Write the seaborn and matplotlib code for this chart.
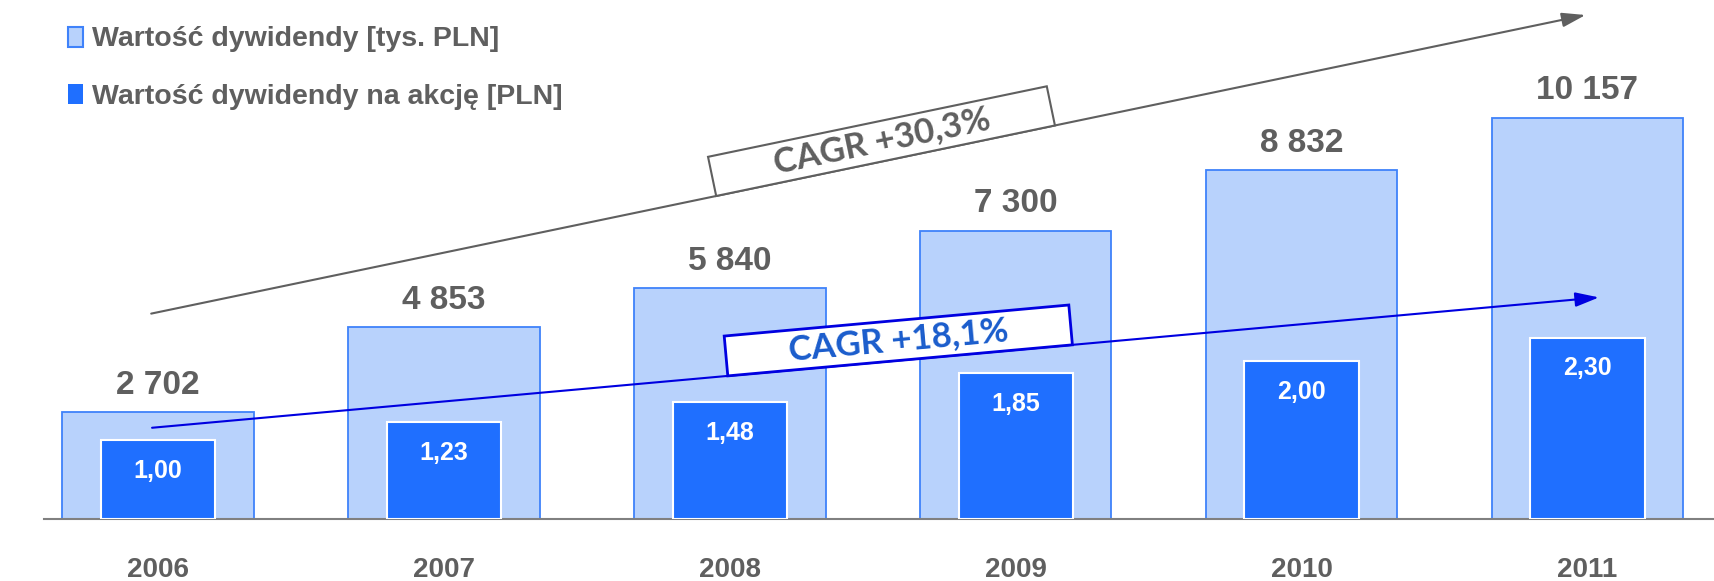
import numpy as np
import pandas as pd
import seaborn as sns
import matplotlib.pyplot as plt
import matplotlib.transforms as mtransforms
from matplotlib.patches import Patch, Rectangle

# --- data -------------------------------------------------------------
years = ["2006", "2007", "2008", "2009", "2010", "2011"]
total_dividend = [2702, 4853, 5840, 7300, 8832, 10157]      # tys. PLN
dividend_per_share = [1.00, 1.23, 1.48, 1.85, 2.00, 2.30]   # PLN

legend_labels = ["Wartość dywidendy [tys. PLN]", "Wartość dywidendy na akcję [PLN]"]
cagr_labels = ["CAGR +30,3%", "CAGR +18,1%"]

# trend arrows (x in category units, y in tys. PLN scale)
trend_total_x = [-0.024, 4.993]
trend_total_y = [5200, 12760]
trend_share_x = [-0.021, 5.04]
trend_share_y = [2310, 5610]

# --- style ------------------------------------------------------------
sns.set_theme(style="white")
plt.rcParams["font.family"] = ["Liberation Sans", "DejaVu Sans"]

GRAY = "#5f5f5f"
LIGHT = "#b8d2fc"
LIGHT_EDGE = "#3f82fa"
DARK = "#1f6fff"
ARROW_BLUE = "#0000e0"
TEXT_BLUE = "#1a5ccc"

W, H, DPI = 1715, 581, 100
fig = plt.figure(figsize=(W / DPI, H / DPI), dpi=DPI)
ax = fig.add_axes([44 / W, 62 / H, 1 - 44 / W, 519 / H])

df = pd.DataFrame({"year": years, "total": total_dividend, "per_share": dividend_per_share})

sns.barplot(data=df, x="year", y="total", ax=ax, width=0.67, color=LIGHT,
            edgecolor=LIGHT_EDGE, linewidth=1.3, saturation=1, zorder=1)
ax2 = ax.twinx()
sns.barplot(data=df, x="year", y="per_share", ax=ax2, width=0.40, color=DARK,
            edgecolor="white", linewidth=1.5, saturation=1, zorder=2)

ax.set_xlim(-0.399, 5.446)
ax.set_ylim(0, 13140)
ax2.set_ylim(0, 6.586)

for a in (ax, ax2):
    a.set_xlabel("")
    a.set_ylabel("")
    a.set_yticks([])
    for s in a.spines.values():
        s.set_visible(False)
ax.spines["bottom"].set_visible(True)
ax.spines["bottom"].set_color("#808080")
ax.spines["bottom"].set_linewidth(1.5)

ax.tick_params(axis="x", length=0, pad=27.5, labelsize=20, labelcolor=GRAY)
for lbl in ax.get_xticklabels():
    lbl.set_fontweight("bold")

# value labels
for i, v in enumerate(total_dividend):
    ax2.annotate(f"{v:,}".replace(",", " "), xy=(i, v), xycoords=ax.transData,
                 xytext=(0, 19.5), textcoords="offset points", ha="center", va="center",
                 fontsize=24, fontweight="bold", color=GRAY, zorder=6)
for i, v in enumerate(dividend_per_share):
    ax2.annotate(f"{v:.2f}".replace(".", ","), xy=(i, v), xycoords=ax2.transData,
                 xytext=(0, -22), textcoords="offset points", ha="center", va="center",
                 fontsize=18, fontweight="bold", color="white", zorder=6)

# legend
handles = [Patch(facecolor=LIGHT, edgecolor=LIGHT_EDGE, linewidth=1.5),
           Patch(facecolor=DARK, edgecolor=DARK, linewidth=0)]
leg = ax2.legend(handles, legend_labels, loc="upper left",
                 bbox_to_anchor=(68 / W, 1 - 26.5 / H), bbox_transform=fig.transFigure,
                 frameon=False, prop={"size": 20.5, "weight": "bold"}, labelcolor=GRAY,
                 handlelength=0.53, handleheight=0.7, handletextpad=0.32,
                 labelspacing=1.12, borderpad=0, borderaxespad=0)


def trend(xs, ys, color, lw, label, text_color, box_lw, frac):
    ax2.annotate("", xy=(xs[1], ys[1]), xycoords=ax.transData,
                 xytext=(xs[0], ys[0]), textcoords=ax.transData,
                 arrowprops=dict(arrowstyle="-|>,head_length=0.72,head_width=0.22",
                                 mutation_scale=20, color=color, lw=lw,
                                 shrinkA=0, shrinkB=0), zorder=5)
    p0 = ax.transData.transform((xs[0], ys[0]))
    p1 = ax.transData.transform((xs[1], ys[1]))
    d = p1 - p0
    ang = np.degrees(np.arctan2(d[1], d[0]))
    u = d / np.hypot(*d)
    nrm = np.array([-u[1], u[0]])
    mid = p0 + frac * d
    bw, bh = 346, 40
    centre = mid + nrm * bh / 2
    corner = centre - u * bw / 2 - nrm * bh / 2
    rect = Rectangle(corner, bw, bh, angle=ang, facecolor="white", edgecolor=color,
                     linewidth=box_lw, transform=mtransforms.IdentityTransform(), zorder=7)
    ax2.add_artist(rect)
    ax2.text(centre[0], centre[1], label, transform=mtransforms.IdentityTransform(),
             rotation=ang, rotation_mode="anchor", ha="center", va="center",
             fontsize=25, fontweight="bold", color=text_color,
             family=["Lato", "DejaVu Sans"], zorder=8)


trend(trend_total_x, trend_total_y, GRAY, 1.5, cagr_labels[0], GRAY, 1.5, 0.512)
trend(trend_share_x, trend_share_y, ARROW_BLUE, 1.5, cagr_labels[1], TEXT_BLUE, 2.0, 0.517)

fig.savefig("out.png", dpi=DPI)
